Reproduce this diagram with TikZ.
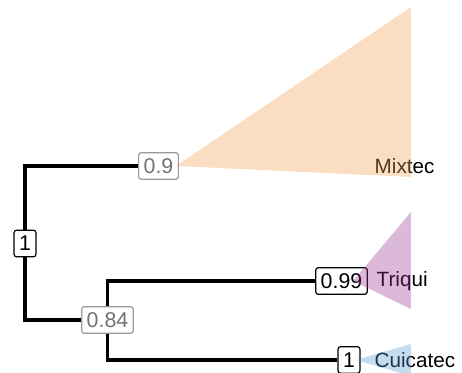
\documentclass[tikz,border=0pt]{standalone}
\usepackage{fontspec}
\setmainfont{Liberation Sans}
\usepackage{xcolor}
\usepackage{tikz}
\definecolor{mixcol}{HTML}{F4A151}
\definecolor{tricol}{HTML}{9A3592}
\definecolor{cuicol}{HTML}{5A9AD2}

\begin{document}
\begin{tikzpicture}[x=0.75pt, y=-0.75pt,
        branch/.style={line width=2.6pt},
        support/.style={rectangle, draw, rounded corners=2pt, fill=white, line width=0.9pt, inner xsep=3.8pt, inner ysep=3pt, minimum height=20pt, font=\fontsize{16}{18}\selectfont},
        weak/.style={support, draw=gray!80, text=gray!90!black},
        clade/.style={anchor=west, font=\fontsize{15.5}{18}\selectfont},
        wedge/.style={opacity=0.35}]
        \useasboundingbox (0,0) rectangle (462,373);

        \node (root) [support] at (25,243.5) {1};
        \node (mixnode) [weak] at (158.5,166) {0.9};
        \node (innernode) [weak] at (107.5,320) {0.84};
        \node (triqnode) [support] at (341.5,281) {0.99};
        \node (cuinode) [support] at (349,360) {1};

        \draw [branch] (root) |- (mixnode);
        \draw [branch] (root) |- (innernode);
        \draw [branch] (innernode) |- (triqnode);
        \draw [branch] (innernode) |- (cuinode);

        \node (mixlabel) [clade] at (370,166) {Mixtec};
        \node (trilabel) [clade] at (372,281) {Triqui};
        \node (cuilabel) [clade] at (370,360) {Cuicatec};

        \fill [wedge, mixcol] (176,166) -- (411,7) -- (411,177) -- cycle;
        \fill [wedge, tricol] (353,281) -- (411,212) -- (411,309) -- cycle;
        \fill [wedge, cuicol] (356,360) -- (411,344) -- (411,376) -- cycle;
    \end{tikzpicture}
\end{document}
